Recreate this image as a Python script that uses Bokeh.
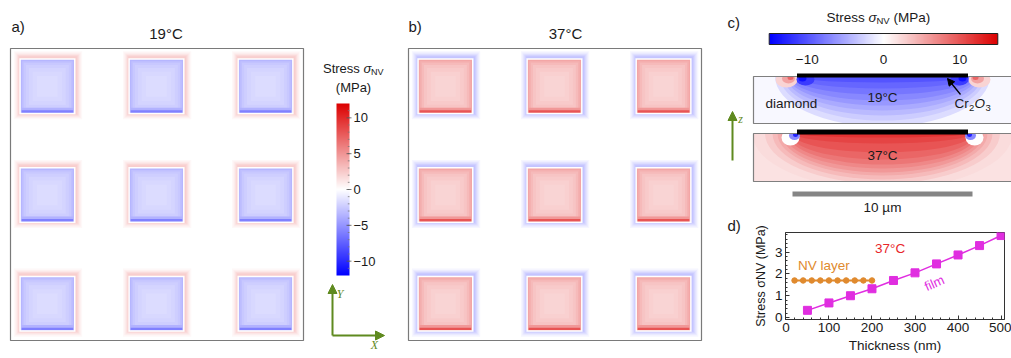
import numpy as np
from bokeh.plotting import figure
from bokeh.models import (ColumnDataSource, LinearColorMapper, Arrow, NormalHead,
                          FixedTicker, Range1d)
from bokeh.layouts import row, column
from bokeh.transform import linear_cmap
from bokeh.core.properties import value
from bokeh.embed import file_html
from bokeh.resources import INLINE

# ---------------- data ----------------
# panels a/b : 3x3 pillar array (um)
pillar_x = [6.8, 26.9, 47.0]
pillar_y = [6.8, 26.9, 47.0]
pillar_w = 9.8
field_size = 54.0
panel_temps = ["19°C", "37°C"]
# drawn layers around/inside a pillar: extra width (um) and stress (MPa)
layer_extra = [2.8, 2.3, 1.9, 1.5, 1.15, 0.85, 0.55, 0.0, -0.5, -1.1, -1.9, -3.0, -4.4, -6.0]
layer_stress_19 = [0.3, 0.7, 1.1, 1.6, 2.0, 2.3, 0.0, -3.4, -3.0, -2.6, -2.3, -2.0, -1.8, -1.6]
layer_stress_37 = [-0.4, -0.9, -1.4, -1.9, -2.4, -2.8, 0.0, 4.2, 3.7, 3.2, 2.8, 2.5, 2.2, 2.0]
bottom_edge_stress = [-6.0, 8.0]
cbar_ticks = [-10, -5, 0, 5, 10]
cbar_labels = ["\u221210", "\u22125", "0", "5", "10"]
cbar_range = 12

# panel c : cross sections
c_cbar_ticks = [-10, 0, 10]
c_cbar_labels = ["\u221210", "0", "10"]
c_cbar_range = 15
film_width = 9.5      # um
scale_bar = 10        # um
# stress contours below film: (stress MPa, width px, depth px)
c_up_layers = [(-2, 215, 50), (-3, 205, 44), (-4, 198, 39), (-5, 192, 34), (-6, 188, 29),
               (-7, 184, 24), (-8, 180, 18), (-9, 176, 12), (-10, 173, 6)]
c_low_layers = [(2, 260, 56), (3, 235, 50), (4, 220, 46), (5, 210, 42), (6, 202, 39),
                (7, 196, 35), (8, 190, 31), (9, 185, 26), (10, 180, 19), (11, 176, 10), (12, 173, 4)]

# panel d
film_thickness = [50, 100, 150, 200, 250, 300, 350, 400, 450, 500]
film_stress = [0.33, 0.67, 1.00, 1.32, 1.70, 2.05, 2.46, 2.87, 3.30, 3.76]
nv_thickness = [20, 40, 60, 80, 100, 120, 140, 160, 180, 200]
nv_stress = [1.70, 1.70, 1.70, 1.70, 1.70, 1.70, 1.70, 1.70, 1.70, 1.70]

# ---------------- styling ----------------
FONT = "Liberation Sans"
SERIF = "Liberation Serif"
TXT = "#1a1a1a"
OLIVE = "#5f8a1f"
MAG = "#e02ee0"
ORG = "#e08a2e"


def make_palette(n=256):
    cols = []
    for i in range(n):
        t = -1 + 2 * i / (n - 1)
        if t < 0:
            f = -t
            r = g = 255 * (1 - f)
            b = 255
        else:
            f = t
            r = 255 - 35 * f
            g = b = 255 * (1 - f)
        cols.append("#%02x%02x%02x" % (int(round(r)), int(round(g)), int(round(b))))
    return cols


PAL = make_palette()


def txt(p, x, y, s, size, color=TXT, align="left", baseline="middle", font=FONT, style="normal", angle=0):
    p.text(x=[x], y=[y], text=[s], text_align=align, text_baseline=baseline,
           text_font=value(font), text_font_size=size, text_color=color,
           text_font_style=style, angle=angle)


def bare(p):
    p.grid.visible = False
    p.outline_line_color = None
    p.background_fill_color = "white"
    p.border_fill_color = "white"


def no_align(p):
    try:
        p.frame_align = False
    except Exception:
        pass


# ================= left figure : panels a, b, colour bar =================
WL, H = 745, 358
SX = 293 / field_size
SY = 292 / field_size


def lx(r):
    return (r - 10) / SX


def ly(r):
    return (340 - r) / SY


pL = figure(width=WL, height=H, x_range=Range1d(lx(0), lx(WL)), y_range=Range1d(ly(H), ly(0)),
            min_border=0, toolbar_location=None, output_backend="svg",
            x_axis_location=None, y_axis_location=None)
bare(pL)
no_align(pL)

offsets = [0.0, lx(408)]
rects = dict(x=[], y=[], w=[], h=[], v=[])
for off, stresses, bottom in zip(offsets, [layer_stress_19, layer_stress_37], bottom_edge_stress):
    for px in pillar_x:
        for py in pillar_y:
            for ext, s in zip(layer_extra, stresses):
                sx_, sy_ = (0.12, 0.2) if ext >= 0.8 else (0.0, 0.0)
                rects["x"].append(off + px + sx_)
                rects["y"].append(py + sy_)
                rects["w"].append(pillar_w + ext)
                rects["h"].append(pillar_w + ext)
                rects["v"].append(s)
            # strong bottom edge
            for hh, frac in [(0.9, 0.6), (0.42, 1.0)]:
                rects["x"].append(off + px)
                rects["y"].append(py - pillar_w / 2 + hh / 2 + 0.05)
                rects["w"].append(pillar_w - 0.3)
                rects["h"].append(hh)
                rects["v"].append(bottom * frac)
pL.rect(x="x", y="y", width="w", height="h", source=ColumnDataSource(rects),
        fill_color=linear_cmap("v", PAL, -cbar_range, cbar_range), line_color=None)

# frames
pL.rect(x=[o + field_size / 2 for o in offsets], y=[field_size / 2] * 2, width=field_size, height=field_size,
        fill_color=None, line_color="#7a7a7a", line_width=1.2)

# titles and panel letters
txt(pL, lx(165.5), ly(32.5), panel_temps[0], "15px", align="center")
txt(pL, lx(565), ly(32.5), panel_temps[1], "15px", align="center")
txt(pL, lx(11), ly(26), "a)", "15px")
txt(pL, lx(408), ly(26), "b)", "15px")
txt(pL, lx(727), ly(22), "c)", "15px")
txt(pL, lx(727), ly(225), "d)", "15px")


# vertical colour bar
def sy_cb(v):
    return ly(189 - v * (172 / 24))


cb_img = np.linspace(-cbar_range, cbar_range, 256).reshape(-1, 1)
mapperL = LinearColorMapper(palette=PAL, low=-cbar_range, high=cbar_range)
pL.image(image=[cb_img], x=lx(336), y=sy_cb(-cbar_range), dw=lx(349) - lx(336),
         dh=sy_cb(cbar_range) - sy_cb(-cbar_range), color_mapper=mapperL)
minor = list(range(-cbar_range + 1, cbar_range))
pL.segment(x0=[lx(347.3)] * len(minor), x1=[lx(349)] * len(minor), y0=[sy_cb(v) for v in minor],
           y1=[sy_cb(v) for v in minor], line_color="#777777", line_width=0.8)
pL.segment(x0=[lx(346)] * 5, x1=[lx(351)] * 5, y0=[sy_cb(v) for v in cbar_ticks],
           y1=[sy_cb(v) for v in cbar_ticks], line_color="#555555", line_width=0.8)
pL.text(x=[lx(353)] * 5, y=[sy_cb(v) for v in cbar_ticks], text=cbar_labels, text_align="left",
        text_baseline="middle", text_font=value(FONT), text_font_size="13px", text_color=TXT)
# colour bar title
txt(pL, lx(322.5), ly(68), "Stress ", "13px")
txt(pL, lx(363), ly(68), "\u03c3", "13px", style="italic")
txt(pL, lx(370.5), ly(71), "NV", "9px")
txt(pL, lx(353), ly(87), "(MPa)", "13px", align="center")

# axis arrows
for (x0, y0, x1, y1) in [(332, 335, 332, 284), (332, 335, 384, 335), (732, 160, 732, 111)]:
    pL.add_layout(Arrow(end=NormalHead(size=9, fill_color=OLIVE, line_color=OLIVE),
                        x_start=lx(x0), y_start=ly(y0), x_end=lx(x1), y_end=ly(y1),
                        line_color=OLIVE, line_width=2))
txt(pL, lx(339.5), ly(293), "Y", "12px", color=OLIVE, font=SERIF, style="italic", align="center")
txt(pL, lx(374), ly(344), "X", "12px", color=OLIVE, font=SERIF, style="italic", align="center")
txt(pL, lx(740), ly(118), "z", "12px", color=OLIVE, font=SERIF, style="italic", align="center")

# ================= panel c =================
X0R = 745
WR = 1011 - X0R
HC = 224
K = 18.0  # px per um


def cx(r):
    return (r - 882) / K


def cy(r):
    return (HC - r) / K


pC = figure(width=WR, height=HC, x_range=Range1d(cx(X0R), cx(X0R + WR)), y_range=Range1d(cy(HC), cy(0)),
            min_border=0, toolbar_location=None, output_backend="svg",
            x_axis_location=None, y_axis_location=None)
bare(pC)
no_align(pC)
cm15 = linear_cmap("v", PAL, -c_cbar_range, c_cbar_range)


def ell(p, pts):
    src = ColumnDataSource(dict(x=[cx(a) for a, b, w, h, v in pts], y=[cy(b) for a, b, w, h, v in pts],
                                w=[w / K for a, b, w, h, v in pts], h=[h / K for a, b, w, h, v in pts],
                                v=[v for a, b, w, h, v in pts]))
    p.ellipse(x="x", y="y", width="w", height="h", source=src, fill_color=cm15, line_color=None)


def slab_bg(p, top, bottom, v):
    p.quad(left=[cx(753)], right=[cx(1015)], top=[cy(top)], bottom=[cy(bottom)],
           fill_color=PAL[int((v + c_cbar_range) / (2 * c_cbar_range) * 255)], line_color=None)


# lower slab (37 C)
slab_bg(pC, 133, 181, 1.8)
ell(pC, [(882, 133, w, 2 * d, v) for v, w, d in c_low_layers])
ell(pC, [(790, 137, 18, 16, 0.0), (974, 137, 18, 16, 0.0),
         (794, 135, 11, 9, -7), (970, 135, 11, 9, -7),
         (795, 134, 5, 5, -13), (969, 134, 5, 5, -13)])
# upper slab (19 C)
slab_bg(pC, 76, 123, -0.3)
ell(pC, [(882, 76, w, 2 * d, v) for v, w, d in c_up_layers])
ell(pC, [(786, 79, 22, 16, 2.5), (979, 79, 22, 16, 2.5),
         (788, 78, 13, 10, 5.5), (977, 78, 13, 10, 5.5),
         (790, 77, 6, 5, 9), (975, 77, 6, 5, 9),
         (805, 79, 18, 12, -11.5), (959, 79, 18, 12, -11.5),
         (802, 78, 8, 6, -14), (962, 78, 8, 6, -14)])
# white masks outside the slabs
pC.quad(left=[cx(740)] * 4, right=[cx(1015), cx(1015), cx(1015), cx(753)],
        top=[cy(-5), cy(123), cy(181), cy(-5)], bottom=[cy(76), cy(133), cy(230), cy(230)],
        fill_color="white", line_color=None)
# slab outlines
pC.quad(left=[cx(753)] * 2, right=[cx(1013)] * 2, top=[cy(76), cy(133)], bottom=[cy(123), cy(181)],
        fill_color=None, line_color="#7f7f7f", line_width=1.2)
# Cr2O3 films
pC.quad(left=[-film_width / 2] * 2, right=[film_width / 2] * 2, top=[cy(73), cy(129)],
        bottom=[cy(77), cy(134)], fill_color="black", line_color=None)
# horizontal colour bar
cbh = np.linspace(-c_cbar_range, c_cbar_range, 256).reshape(1, -1)
mapperC = LinearColorMapper(palette=PAL, low=-c_cbar_range, high=c_cbar_range)
KC = 7.62
pC.image(image=[cbh], x=cx(883 - c_cbar_range * KC), y=cy(44), dw=2 * c_cbar_range * KC / K,
         dh=11 / K, color_mapper=mapperC)
pC.quad(left=[cx(883 - c_cbar_range * KC)], right=[cx(883 + c_cbar_range * KC)], top=[cy(33)],
        bottom=[cy(44)], fill_color=None, line_color="#222222", line_width=1)
pC.text(x=[cx(883 + t * KC) for t in c_cbar_ticks], y=[cy(58.5)] * 3, text=c_cbar_labels,
        text_align="center", text_baseline="middle", text_font=value(FONT), text_font_size="13.5px",
        text_color=TXT)
txt(pC, cx(826), cy(17), "Stress ", "13.5px")
txt(pC, cx(868), cy(17), "\u03c3", "13.5px", style="italic")
txt(pC, cx(876), cy(20), "NV", "9.5px")
txt(pC, cx(893), cy(17), "(MPa)", "13.5px")
# labels
txt(pC, cx(765), cy(103), "diamond", "13.5px")
txt(pC, cx(882), cy(97), "19°C", "13.5px", align="center")
txt(pC, cx(882), cy(155), "37°C", "13.5px", align="center")
txt(pC, cx(954), cy(103), "Cr", "13.5px")
txt(pC, cx(968.5), cy(107), "2", "9.5px")
txt(pC, cx(974), cy(103), "O", "13.5px", style="italic")
txt(pC, cx(985), cy(107), "3", "9.5px")
pC.add_layout(Arrow(end=NormalHead(size=7, fill_color="black", line_color="black"),
                    x_start=cx(960), y_start=cy(94), x_end=cx(947), y_end=cy(78),
                    line_color="black", line_width=1.3))
# scale bar
pC.quad(left=[-scale_bar / 2], right=[scale_bar / 2], top=[cy(191)], bottom=[cy(196)],
        fill_color="#858585", line_color=None)
txt(pC, 0, cy(207), "10 \u00b5m", "13.5px", align="center")

# ================= panel d =================
HD = H - HC
pD = figure(width=WR, height=HD, x_range=Range1d(-1, 508), y_range=Range1d(-0.09, 3.9),
            min_border_left=40, min_border_right=7, min_border_top=8, min_border_bottom=39,
            toolbar_location=None, output_backend="svg")
no_align(pD)
pD.grid.visible = False
pD.outline_line_color = "#333333"
pD.background_fill_color = "white"
pD.border_fill_color = "white"
pD.xaxis.ticker = FixedTicker(ticks=[0, 100, 200, 300, 400, 500], minor_ticks=list(range(0, 501, 20)))
pD.yaxis.ticker = FixedTicker(ticks=[0, 1, 2, 3], minor_ticks=[i / 5 for i in range(0, 20)])
for ax in (pD.xaxis[0], pD.yaxis[0]):
    ax.major_tick_in = 4
    ax.major_tick_out = 0
    ax.minor_tick_in = 2
    ax.minor_tick_out = 0
    ax.major_tick_line_color = "#333333"
    ax.minor_tick_line_color = "#333333"
    ax.axis_line_color = "#333333"
    ax.major_label_text_font = FONT
    ax.major_label_text_font_size = "13.5px"
    ax.major_label_text_color = TXT
    ax.major_label_standoff = 3
    ax.axis_label_text_font = FONT
    ax.axis_label_text_font_style = "normal"
    ax.axis_label_text_color = TXT
pD.xaxis.axis_label = "Thickness (nm)"
pD.xaxis.axis_label_text_font_size = "13.5px"
pD.xaxis.axis_label_standoff = 3
pD.yaxis.axis_label = "Stress \u03c3NV (MPa)"
pD.yaxis.axis_label_text_font_size = "12.5px"
pD.yaxis.axis_label_standoff = 4

pD.line(nv_thickness, nv_stress, line_color=ORG, line_width=2)
pD.scatter(nv_thickness, nv_stress, marker="circle", size=5.5, fill_color=ORG, line_color=ORG)
pD.line(film_thickness, film_stress, line_color=MAG, line_width=1.5)
pD.scatter(film_thickness, film_stress, marker="square", size=8, fill_color=MAG, line_color=MAG)
txt(pD, 242, 3.16, "37°C", "13.5px", color="#e8262a", align="center")
txt(pD, 88, 2.39, "NV layer", "13.5px", color=ORG, align="center")
txt(pD, 345, 1.58, "film", "13px", color=MAG, align="center", angle=0.42)

layout = row(pL, column(pC, pD))
open("out.html", "w").write(file_html(layout, INLINE))
